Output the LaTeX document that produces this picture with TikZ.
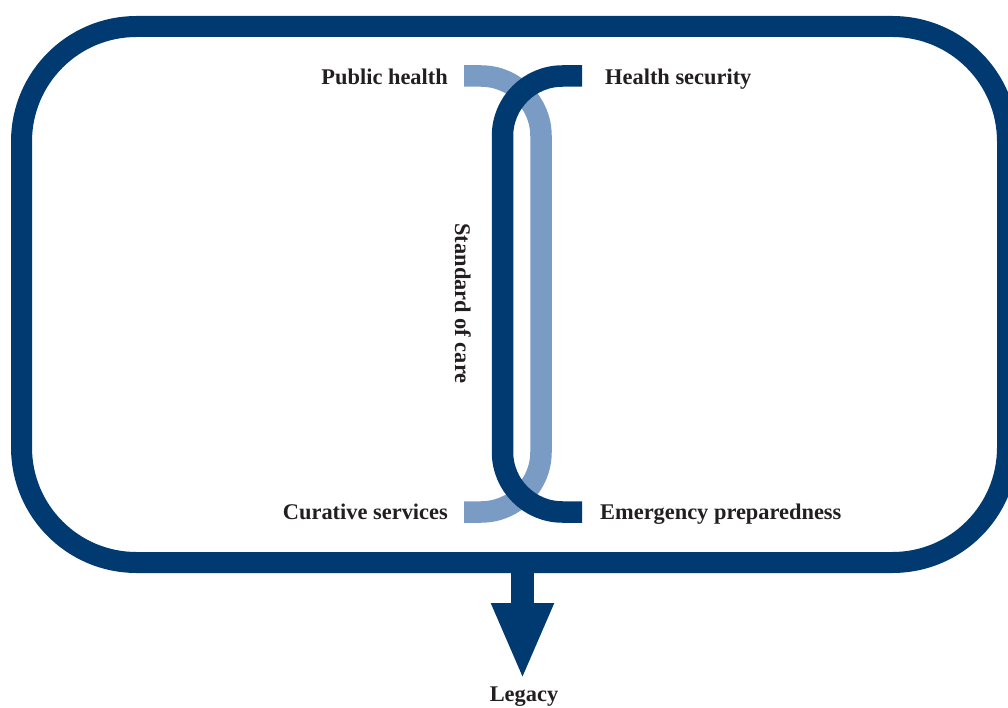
\documentclass[tikz,border=0pt]{standalone}
\usepackage{fontspec}
\setmainfont{Liberation Serif}
\usetikzlibrary{arrows.meta}
\definecolor{darkblue}{HTML}{003A70}
\definecolor{lightblue}{HTML}{7A9CC4}
\definecolor{txt}{HTML}{231F20}
\tikzset{
  frame/.style={draw=darkblue, line width=21pt, rounded corners=115pt},
  darkband/.style={draw=darkblue, line width=21.5pt, rounded corners=60pt},
  lightband/.style={draw=lightblue, line width=21.5pt, rounded corners=60pt},
  lbl/.style={text=txt, font=\fontsize{22.4}{26}\selectfont\bfseries, inner sep=0pt},
  legacyarrow/.style={draw=darkblue, line width=23pt, -{Triangle[width=57pt,length=77pt]}}
}
\begin{document}
\begin{tikzpicture}[x=1pt,y=-1pt]
\clip (0,0) rectangle (1008,708);
\useasboundingbox (0,0) rectangle (1008,708);
% frame
\draw[frame] (21.5,26.5) rectangle (1007.5,562.5);
% brackets
\draw[lightband] (464,76) -- (541,76) -- (541,512) -- (464,512);
\draw[darkband] (582,76) -- (502.5,76) -- (502.5,512) -- (582,512);
% labels
\node[lbl, anchor=base east] (ph) at (448,85) {Public health};
\node[lbl, anchor=base west] (hs) at (605,85) {Health security};
\node[lbl, anchor=base east] (cs) at (448,519) {Curative services};
\node[lbl, anchor=base west] (ep) at (600,519) {Emergency preparedness};
\node[lbl, anchor=base, rotate=-90] (soc) at (455,303.5) {Standard of care};
\node[lbl, anchor=base] (legacy) at (524,701.5) {Legacy};
% arrow
\coordinate (arrowtop) at (522.5,562);
\coordinate (arrowtip) at (522.5,680);
\draw[legacyarrow] (arrowtop) -- (arrowtip);
\end{tikzpicture}
\end{document}
